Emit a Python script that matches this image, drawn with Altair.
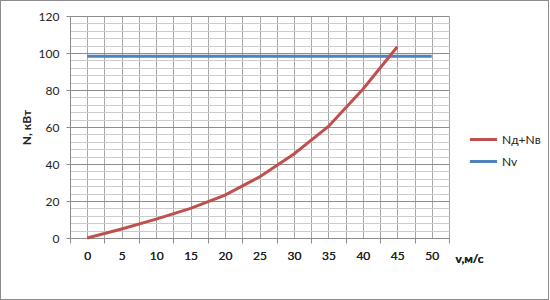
import altair as alt
import pandas as pd

FONT = "Lato"

speeds = [0, 5, 10, 15, 20, 25, 30, 35, 40, 45, 50]
n_dv = [0, 4.9, 10.2, 16.0, 23.2, 33.0, 45.4, 60.3, 80.4, 103.4]
n_v = [98.3, 98.3, 98.3, 98.3, 98.3, 98.3, 98.3, 98.3, 98.3, 98.3, 98.3]
series_names = ["Nд+Nв", "Nv"]
series_colors = ["#C0504D", "#4F81BD"]

x_label_values = speeds
x_grid_values = [-2.5 + 2.5 * i for i in range(23)]
x_tick_values = [-2.5 + 5 * i for i in range(12)]
y_label_values = [0, 20, 40, 60, 80, 100, 120]
y_grid_values = [4 * i for i in range(31)]

rows = []
for v, n in zip(speeds, n_dv):
    rows.append({"v": v, "N": n, "s": series_names[0]})
for v, n in zip(speeds, n_v):
    rows.append({"v": v, "N": n, "s": series_names[1]})
df = pd.DataFrame(rows)

xscale = alt.Scale(domain=[-2.5, 52.5], nice=False, zero=False)
yscale = alt.Scale(domain=[0, 120], nice=False)
color = alt.Color(
    "s:N",
    scale=alt.Scale(domain=series_names, range=series_colors),
    legend=alt.Legend(
        title=None, orient="none", legendX=398, legendY=108,
        symbolType="stroke", symbolSize=740, symbolStrokeWidth=3,
        labelFont=FONT, labelFontSize=12, labelColor="#222",
        labelOffset=3, rowPadding=-1,
    ),
)

base = alt.Chart(df)

grid = base.mark_line(opacity=0).encode(
    x=alt.X("v:Q", scale=xscale, axis=alt.Axis(
        values=x_grid_values, grid=True, gridColor="#a6a6a6", gridWidth=1,
        labels=False, ticks=False, domain=False, title=None, orient="bottom")),
    y=alt.Y("N:Q", scale=yscale, axis=alt.Axis(
        values=y_grid_values, grid=True,
        gridColor=alt.expr("datum.value % 20 === 0 ? '#8c8c8c' : '#cccccc'"),
        labels=False, ticks=False, domain=False, title=None, orient="left")),
)

ticks = base.mark_line(opacity=0).encode(
    x=alt.X("v:Q", scale=xscale, axis=alt.Axis(
        values=x_tick_values, grid=False, labels=False, ticks=True, tickSize=5,
        tickColor="#8c8c8c", domain=True, domainColor="#8c8c8c",
        title=None, orient="bottom")),
    y=alt.Y("N:Q", scale=yscale, axis=alt.Axis(
        values=y_label_values, grid=False, labels=True, ticks=True, tickSize=4,
        tickColor="#8c8c8c", domain=True, domainColor="#8c8c8c",
        labelFont=FONT, labelFontSize=12, labelColor="#222", labelPadding=7,
        title="N, кВт", titleFont=FONT, titleFontSize=12, titleFontWeight="bold",
        titleColor="#222", titleAngle=-90, titleX=-44, titleY=111,
        titleAlign="center", titleBaseline="middle", orient="left")),
)

x_main = alt.X("v:Q", scale=xscale, axis=alt.Axis(
    values=x_label_values, grid=False, labels=True, ticks=False, domain=False,
    labelFont=FONT, labelFontSize=12, labelColor="#222", labelPadding=12,
    title="v,м/с", titleFont=FONT, titleFontSize=12, titleFontWeight="bold",
    titleColor="#222", titleX=385, titleY=20, titleAlign="left",
    titleBaseline="middle", orient="bottom"))
y_main = alt.Y("N:Q", scale=yscale, axis=None)

blue = base.transform_filter(alt.datum.s == series_names[1]).mark_line(
    strokeWidth=3).encode(x=x_main, y=y_main, color=color)
red = base.transform_filter(alt.datum.s == series_names[0]).mark_line(
    strokeWidth=3).encode(x=x_main, y=y_main, color=color)

border = alt.Chart(df).mark_rect(
    fill=None, stroke="#8c8c8c", strokeWidth=1).encode(
    x=alt.value(-69.5), x2=alt.value(478.5), y=alt.value(-15.5), y2=alt.value(283.5))

chart = alt.layer(grid, ticks, blue, red, border).resolve_axis(
    x="independent", y="independent"
).properties(
    width=379, height=222,
    autosize=alt.AutoSizeParams(type="none"),
    padding={"left": 70, "top": 16, "right": 101, "bottom": 62},
).configure_view(stroke=None).configure(background="white")

chart.save("out.html", embed_options={"renderer": "svg", "actions": False})
